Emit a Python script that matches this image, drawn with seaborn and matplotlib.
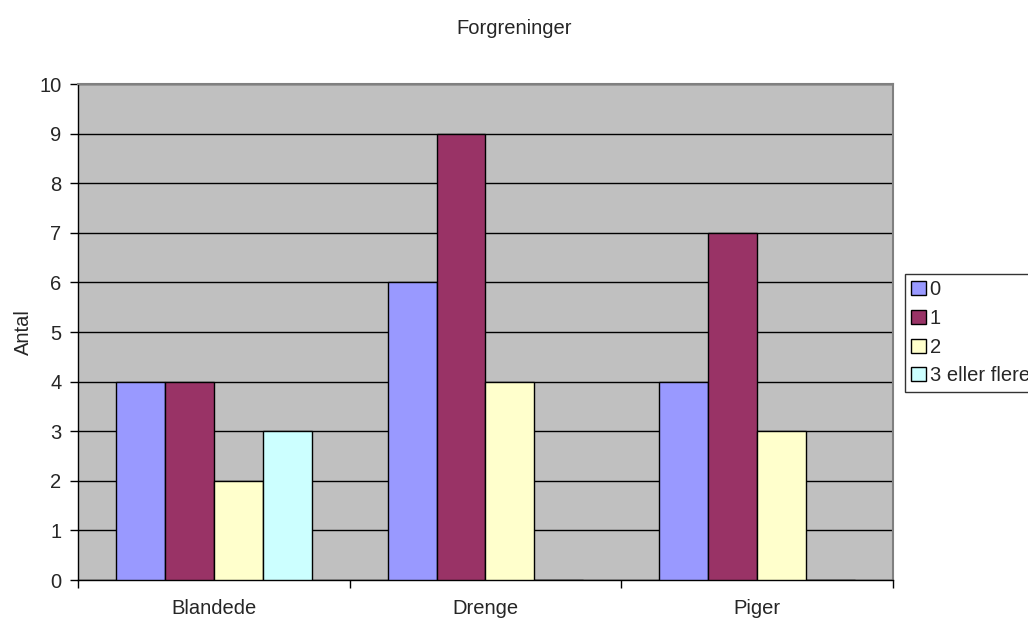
import pandas as pd
import seaborn as sns
import matplotlib.pyplot as plt

# Data
categories = ['Blandede', 'Drenge', 'Piger']
levels = ['0', '1', '2', '3 eller flere']
vals_0 = [4, 6, 4]
vals_1 = [4, 9, 7]
vals_2 = [2, 4, 3]
vals_3 = [3, 0, 0]

colors = ['#9999FF', '#993366', '#FFFFCC', '#CCFFFF']

rows = []
for lvl, vals in zip(levels, [vals_0, vals_1, vals_2, vals_3]):
    for cat, v in zip(categories, vals):
        rows.append({'cat': cat, 'level': lvl, 'antal': v})
df = pd.DataFrame(rows)

sns.set_style('white')
plt.rcParams['font.family'] = ['Liberation Sans', 'DejaVu Sans']

fig = plt.figure(figsize=(10.28, 6.19), dpi=100)
ax = fig.add_axes([78 / 1028, 1 - 580 / 619, (893 - 78) / 1028, (580 - 84) / 619])
ax.set_facecolor('#C0C0C0')

sns.barplot(data=df, x='cat', y='antal', hue='level', order=categories,
            hue_order=levels, palette=colors, width=0.72, edgecolor='black',
            linewidth=1, saturation=1, ax=ax, errorbar=None, zorder=3)

ax.set_xlim(-0.5, 2.5)
ax.set_ylim(0, 10)
ax.set_yticks(range(0, 11))
ax.yaxis.grid(True, color='black', linewidth=1)
ax.set_axisbelow(True)

# category ticks at boundaries, labels centred
ax.set_xticks([-0.5, 0.5, 1.5, 2.5])
ax.set_xticklabels([])
ax.set_xticks([0, 1, 2], minor=True)
ax.set_xticklabels(categories, minor=True, fontsize=14.5)
ax.tick_params(axis='x', which='minor', length=0, pad=14)
ax.tick_params(axis='x', which='major', length=6, width=1, color='black', direction='out', bottom=True)
ax.tick_params(axis='y', length=6, width=1, color='black', direction='out', left=True, labelsize=14.5, pad=6)

for s in ['top', 'right']:
    ax.spines[s].set_color('#808080')
    ax.spines[s].set_linewidth(1.5)
for s in ['left', 'bottom']:
    ax.spines[s].set_color('black')
    ax.spines[s].set_linewidth(1)

ax.set_xlabel('')
ax.set_ylabel('Antal', fontsize=14.5)
ax.yaxis.set_label_coords(-45 / 815, 0.5)

fig.text(0.5, 1 - 28 / 619, 'Forgreninger', ha='center', va='center', fontsize=14.5)

leg = ax.legend(loc='upper left', bbox_to_anchor=(905 / 1028, 1 - 274 / 619),
                bbox_transform=fig.transFigure, frameon=True, fancybox=False,
                fontsize=14.5, handlelength=0.7, handleheight=0.7, handletextpad=0.2,
                labelspacing=0.48, borderpad=0.32, borderaxespad=0)
leg.get_frame().set_edgecolor('black')
leg.get_frame().set_linewidth(1)
leg.get_frame().set_facecolor('white')

fig.savefig('out.png', dpi=100)
